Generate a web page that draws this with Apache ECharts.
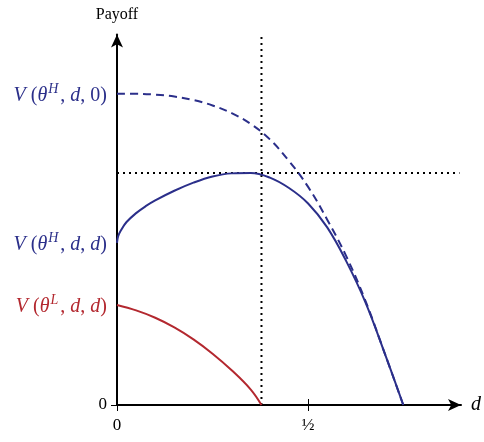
<!DOCTYPE html>
<html><head><meta charset="utf-8">
<script src="https://cdn.jsdelivr.net/npm/echarts@6/dist/echarts.min.js"></script>
<style>html,body{margin:0;padding:0;background:#fff}#c{width:484px;height:442px}</style>
</head><body><div id="c"></div>
<script>
// Data
const solidX = [0, 0.003, 0.01, 0.025, 0.05, 0.075, 0.1, 0.15, 0.2, 0.25, 0.3, 0.35, 0.4, 0.45, 0.5, 0.55, 0.6, 0.65, 0.7, 0.749];
const solidY = [0.42, 0.437, 0.452, 0.474, 0.497, 0.515, 0.53, 0.555, 0.576, 0.592, 0.6, 0.601, 0.589, 0.562, 0.522, 0.46, 0.372, 0.266, 0.135, 0];
const dashX = [0, 0.05, 0.1, 0.15, 0.2, 0.25, 0.3, 0.35, 0.4, 0.45, 0.5, 0.55, 0.6, 0.65, 0.7, 0.749];
const dashY = [0.806, 0.806, 0.804, 0.799, 0.79, 0.776, 0.756, 0.728, 0.688, 0.632, 0.565, 0.48, 0.385, 0.27, 0.135, 0];
const redX = [0, 0.05, 0.1, 0.15, 0.2, 0.25, 0.3, 0.35, 0.378];
const redY = [0.259, 0.245, 0.226, 0.201, 0.17, 0.133, 0.09, 0.04, 0];
const vLine = [[0.378, 0], [0.378, 0.965]];
const hLine = [[0, 0.601], [0.896, 0.601]];
const xTickVals = [0, 0.5];
const xTickLabels = ['0', '½'];
const yLabelVals = [0, 0.259, 0.42, 0.806];

const BLUE = '#2b2f8a';
const RED = '#b3282f';
const SERIF = '"Liberation Serif","DejaVu Serif",serif';

function zip(a, b) { return a.map((v, i) => [v, b[i]]); }

function richFor(color) {
  return {
    i: {fontFamily: SERIF, fontStyle: 'italic', fontSize: 20, color: color, lineHeight: 24, verticalAlign: 'bottom'},
    n: {fontFamily: SERIF, fontSize: 20, color: color, lineHeight: 24, verticalAlign: 'bottom'},
    s: {fontFamily: SERIF, fontStyle: 'italic', fontSize: 14, color: color, lineHeight: 24, verticalAlign: 'top', padding: [0, 2, 0, 1]}
  };
}
const rich = {};
Object.entries(richFor(BLUE)).forEach(([k, v]) => rich['b' + k] = v);
Object.entries(richFor(RED)).forEach(([k, v]) => rich['r' + k] = v);
rich.z = {fontFamily: SERIF, fontSize: 17, color: '#000'};

function yLabel(v) {
  if (Math.abs(v - yLabelVals[3]) < 1e-6) return '{bi|V}{bn| (}{bi|θ}{bs|H}{bn|, }{bi|d}{bn|, 0)}';
  if (Math.abs(v - yLabelVals[2]) < 1e-6) return '{bi|V}{bn| (}{bi|θ}{bs|H}{bn|, }{bi|d}{bn|, }{bi|d}{bn|)}';
  if (Math.abs(v - yLabelVals[1]) < 1e-6) return '{ri|V}{rn| (}{ri|θ}{rs|L}{rn|, }{ri|d}{rn|, }{ri|d}{rn|)}';
  return '{z|0}';
}

const chart = echarts.init(document.getElementById('c'), null, {renderer: 'canvas'});
const axisLineStyle = {color: '#000', width: 2};
const lineCommon = {type: 'line', symbol: 'none', smooth: 0.4, z: 3};
chart.setOption({
  animation: false,
  grid: {left: 117, right: 18, top: 34.4, bottom: 37, containLabel: false},
  xAxis: [{
    type: 'value', min: 0, max: 0.9,
    axisLine: {show: true, lineStyle: axisLineStyle, symbol: ['none', 'arrow'], symbolSize: [9, 13]},
    axisTick: {show: true, customValues: xTickVals, length: 6, lineStyle: {color: '#000', width: 1}},
    axisLabel: {customValues: xTickVals, formatter: v => xTickLabels[xTickVals.indexOf(v)] ?? '', fontFamily: SERIF, fontSize: 17, color: '#000', margin: 12},
    splitLine: {show: false},
    name: 'd', nameLocation: 'end', nameGap: 10,
    nameTextStyle: {fontFamily: SERIF, fontStyle: 'italic', fontSize: 20, color: '#000', verticalAlign: 'middle'}
  }, {
    type: 'value', min: 0, max: 0.9, position: 'bottom',
    axisLine: {show: false},
    axisTick: {show: true, inside: true, customValues: xTickVals, length: 6, lineStyle: {color: '#000', width: 1}},
    axisLabel: {show: false}, splitLine: {show: false}
  }],
  yAxis: [{
    type: 'value', min: 0, max: 0.96,
    axisLine: {show: true, lineStyle: axisLineStyle, symbol: ['none', 'arrow'], symbolSize: [9, 13]},
    axisTick: {show: true, customValues: [0], length: 6, lineStyle: {color: '#000', width: 1}},
    axisLabel: {customValues: yLabelVals, formatter: yLabel, rich: rich, margin: 10},
    splitLine: {show: false},
    name: 'Payoff', nameLocation: 'end', nameGap: 12,
    nameTextStyle: {fontFamily: SERIF, fontSize: 16, color: '#000', align: 'center'}
  }, {
    type: 'value', min: 0, max: 0.96, position: 'left',
    axisLine: {show: false},
    axisTick: {show: true, inside: true, customValues: [0], length: 6, lineStyle: {color: '#000', width: 1}},
    axisLabel: {show: false}, splitLine: {show: false}
  }],
  series: [
    {type: 'line', data: vLine, symbol: 'none', silent: true, lineStyle: {color: '#000', width: 2, type: [2, 4]}, z: 1},
    {type: 'line', data: hLine, symbol: 'none', silent: true, lineStyle: {color: '#000', width: 2, type: [2, 4]}, z: 1},
    Object.assign({data: zip(dashX, dashY), lineStyle: {color: BLUE, width: 2, type: [8, 5]}}, lineCommon),
    Object.assign({data: zip(solidX, solidY), lineStyle: {color: BLUE, width: 2}}, lineCommon),
    Object.assign({data: zip(redX, redY), lineStyle: {color: RED, width: 2}}, lineCommon)
  ]
});
</script></body></html>
